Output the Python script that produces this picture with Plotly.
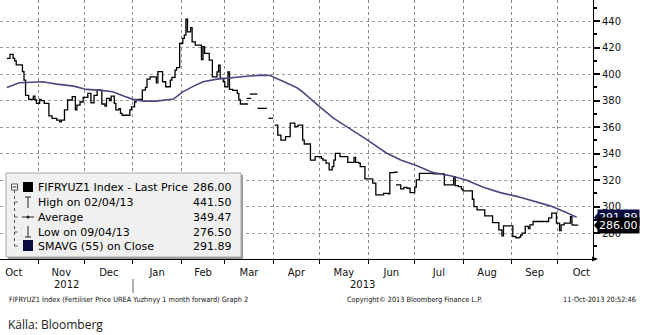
import plotly.graph_objects as go
import pandas as pd

# ---------------- data ----------------
price_dates = [
    "2012-10-12", "2012-10-14", "2012-10-16", "2012-10-17", "2012-10-18", "2012-10-22", "2012-10-23",
    "2012-10-24", "2012-10-26", "2012-10-29", "2012-10-30", "2012-10-31", "2012-11-02", "2012-11-03",
    "2012-11-05", "2012-11-08", "2012-11-10", "2012-11-13", "2012-11-15", "2012-11-16", "2012-11-18",
    "2012-11-20", "2012-11-23", "2012-11-25", "2012-11-26", "2012-11-28", "2012-11-30", "2012-12-03",
    "2012-12-05", "2012-12-07", "2012-12-09", "2012-12-12", "2012-12-14", "2012-12-15", "2012-12-17",
    "2012-12-18", "2012-12-20", "2012-12-21", "2012-12-23", "2012-12-24", "2012-12-25", "2012-12-30",
    "2012-12-31", "2013-01-02", "2013-01-03", "2013-01-07", "2013-01-09", "2013-01-10", "2013-01-12",
    "2013-01-16", "2013-01-17", "2013-01-20", "2013-01-22", "2013-01-25", "2013-01-26", "2013-01-28",
    "2013-01-29", "2013-01-31", "2013-02-02", "2013-02-03", "2013-02-04", "2013-02-05", "2013-02-07",
    "2013-02-08", "2013-02-10", "2013-02-14", "2013-02-15", "2013-02-16", "2013-02-19", "2013-02-21",
    "2013-02-24", "2013-02-25", "2013-02-26", "2013-02-28", "2013-03-01", "2013-03-03", "2013-03-04",
    "2013-03-06", "2013-03-09", "2013-03-10", "2013-03-11", "2013-03-16", "2013-03-16T06:00",
    "2013-03-15", "2013-03-18", "2013-03-18T06:00",
    "2013-03-17", "2013-03-22", "2013-03-22T06:00",
    "2013-03-22", "2013-03-28", "2013-03-28T06:00",
    "2013-03-29", "2013-04-01", "2013-04-01T06:00",
    "2013-04-02", "2013-04-04", "2013-04-06", "2013-04-09", "2013-04-12", "2013-04-15", "2013-04-17",
    "2013-04-20", "2013-04-21", "2013-04-25", "2013-04-28", "2013-05-02", "2013-05-03", "2013-05-05",
    "2013-05-07", "2013-05-09", "2013-05-10", "2013-05-11", "2013-05-14", "2013-05-19", "2013-05-23",
    "2013-05-24", "2013-05-26", "2013-05-27", "2013-05-30", "2013-06-04", "2013-06-06", "2013-06-11",
    "2013-06-14", "2013-06-15", "2013-06-18", "2013-06-20", "2013-06-20T06:00",
    "2013-06-19", "2013-06-22", "2013-06-24", "2013-06-26", "2013-06-28", "2013-07-01", "2013-07-02",
    "2013-07-04", "2013-07-13", "2013-07-20", "2013-07-26", "2013-07-27", "2013-07-29", "2013-07-31",
    "2013-08-01", "2013-08-07", "2013-08-08", "2013-08-10", "2013-08-15", "2013-08-20", "2013-08-24",
    "2013-08-26", "2013-08-27", "2013-09-02", "2013-09-04", "2013-09-06", "2013-09-07", "2013-09-08",
    "2013-09-10", "2013-09-12", "2013-09-13", "2013-09-15", "2013-09-25", "2013-09-27", "2013-09-30",
    "2013-10-02", "2013-10-03", "2013-10-05", "2013-10-09", "2013-10-10", "2013-10-11", "2013-10-14",
]
price_values = [
    412, 415, 412, 410, 407, 402, 395.5,
    384, 381, 383.5, 380.5, 378, 381, 380,
    378, 368.5, 366.7, 365.4, 364, 365.4, 373,
    380.5, 383, 373, 376.7, 379, 382.5, 385.5,
    378.4, 384, 388, 377.5, 376, 381.7, 380,
    383.5, 378, 373, 374, 370.4, 369, 373,
    375.4, 379, 381, 388, 390, 396.3, 398,
    393.5, 402, 394.3, 390.5, 395.5, 397.6, 403,
    405, 423.2, 427, 429.5, 441.5, 432, 435.2,
    424.4, 422, 411, 420.7, 415.7, 410.6, 398,
    401.8, 406.8, 396.8, 394.3, 390.5, 401.8, 388.5,
    387.8, 385.5, 380.5, 377.5, 377.5, None,
    381.7, 381.7, None,
    385, 385, None,
    374.2, 374.2, None,
    366.7, 366.7, None,
    361.6, 354, 350.3, 352.8, 363, 360.4, 361.6,
    350.3, 347.3, 335.2, 337.7, 336.5, 335.2, 332.8,
    327.8, 330.3, 335.2, 340.3, 337.7, 333.5, 337.2,
    333.5, 332.8, 330.3, 321, 317.7, 308.9, 310.1,
    309.6, 325.7, 326, 326, None,
    316.4, 313.4, 314.6, 313.9, 310.6, 314.7, 320.2,
    325.2, 324.7, 316.4, 322.7, 315.9, 315.2, 313.2,
    311.9, 305.6, 300.1, 297.6, 293, 288, 282.5,
    278, 285.5, 277.5, 276.5, 277, 278.6, 280,
    285.2, 283.5, 286.3, 288.8, 291.6, 295.1, 287.6,
    282, 286.3, 287.6, 292.5, 286.3, 286, 286,
]

sma_dates = [
    "2012-10-12", "2012-10-20", "2012-11-04", "2012-11-13", "2012-11-24", "2012-12-02", "2012-12-10",
    "2012-12-19", "2012-12-26", "2013-01-01", "2013-01-08", "2013-01-16", "2013-01-27", "2013-02-02",
    "2013-02-09", "2013-02-15", "2013-02-24", "2013-03-04", "2013-03-17", "2013-03-25", "2013-03-30",
    "2013-04-08", "2013-04-16", "2013-04-19", "2013-04-24", "2013-04-26", "2013-05-01", "2013-05-10",
    "2013-05-20", "2013-05-31", "2013-06-13", "2013-06-22", "2013-07-02", "2013-07-13", "2013-07-24",
    "2013-08-03", "2013-08-14", "2013-08-25", "2013-09-05", "2013-09-16", "2013-09-26", "2013-10-06",
    "2013-10-13",
]
sma_values = [
    390, 393.5, 394.3, 392.5, 391, 388.5, 388,
    386.7, 383.5, 381, 379.7, 379.7, 381.2, 386.7,
    391, 394.3, 396.3, 397.3, 398.6, 399.3, 399,
    394.3, 390, 387.5, 383, 380.5, 375.4, 366.7,
    359.1, 350.8, 340.3, 335.2, 331, 325.7, 323.4,
    320.2, 314.7, 310.6, 307.6, 303.8, 300.6, 295.8,
    292,
]

legend_labels = ["FIFRYUZ1 Index - Last Price", "High on 02/04/13", "Average",
                 "Low on 09/04/13", "SMAVG (55) on Close"]
legend_values = [286.00, 441.50, 349.47, 276.50, 291.89]

x_range = ["2012-10-07 14:00", "2013-10-23 12:00"]
y_range = [260.5, 456]

footer_left = "FIFRYUZ1 Index (Fertiliser Price UREA Yuzhnyy 1 month forward) Graph 2"
footer_mid = "Copyright\u00a9 2013 Bloomberg Finance L.P."
footer_right = "11-Oct-2013 20:52:46"
source_text = "K\u00e4lla: Bloomberg"

# ---------------- layout helpers (decoration positions) ----------------
W, H = 645, 335
ML, MR, MT, MB = 0, 52, 0, 76
PW, PH = W - ML - MR, H - MT - MB


def px(x):
    return (x - ML) / PW


def py(y):
    return 1 - (y - MT) / PH


AX_FONT = dict(family="DejaVu Sans", size=10, color="#111")
LEG_FONT = dict(family="DejaVu Sans", size=11, color="#000")
NAVY = "#4a4a82"

fig = go.Figure()
fig.add_trace(go.Scatter(
    x=pd.to_datetime(price_dates, format="ISO8601"), y=price_values, mode="lines",
    line=dict(color="#000", width=1.3, shape="hv"), connectgaps=False,
    hoverinfo="skip", showlegend=False))
fig.add_trace(go.Scatter(
    x=pd.to_datetime(sma_dates, format="ISO8601"), y=sma_values, mode="lines",
    line=dict(color=NAVY, width=1.6), hoverinfo="skip", showlegend=False))

shapes = []
annotations = []

# legend box with shadow
shapes.append(dict(type="rect", xref="paper", yref="paper", x0=px(8), x1=px(243), y0=py(259), y1=py(175),
                   fillcolor="#9a9a9a", line=dict(width=0), layer="above"))
shapes.append(dict(type="rect", xref="paper", yref="paper", x0=px(6), x1=px(241), y0=py(257), y1=py(173),
                   fillcolor="#f0f0f0", line=dict(color="#a8a8a8", width=1), layer="above"))

row_y = [187, 202, 217, 232, 246]
for lab, val, ry in zip(legend_labels, legend_values, row_y):
    annotations.append(dict(xref="paper", yref="paper", x=px(36), y=py(ry), text=lab, showarrow=False,
                            xanchor="left", yanchor="middle", font=LEG_FONT))
    annotations.append(dict(xref="paper", yref="paper", x=px(234), y=py(ry), text=f"{val:.2f}",
                            showarrow=False, xanchor="right", yanchor="middle", font=LEG_FONT))

# legend icons
dot = dict(color="#555", width=1, dash="dot")
shapes += [
    dict(type="rect", xref="paper", yref="paper", x0=px(11.5), x1=px(17.5), y0=py(190), y1=py(184),
         line=dict(color="#555", width=1), fillcolor="#fff", layer="above"),
    dict(type="line", xref="paper", yref="paper", x0=px(12.5), x1=px(16.5), y0=py(187), y1=py(187),
         line=dict(color="#222", width=1), layer="above"),
    dict(type="line", xref="paper", yref="paper", x0=px(14.5), x1=px(14.5), y0=py(190), y1=py(246),
         line=dot, layer="above"),
    dict(type="rect", xref="paper", yref="paper", x0=px(23), x1=px(33), y0=py(192), y1=py(182),
         fillcolor="#000", line=dict(width=0), layer="above"),
    dict(type="rect", xref="paper", yref="paper", x0=px(23), x1=px(33), y0=py(251), y1=py(240),
         fillcolor="#0c0c40", line=dict(width=0), layer="above"),
    dict(type="line", xref="paper", yref="paper", x0=px(25), x1=px(31), y0=py(197), y1=py(197),
         line=dict(color="#222", width=1), layer="above"),
    dict(type="line", xref="paper", yref="paper", x0=px(28), x1=px(28), y0=py(197), y1=py(208),
         line=dict(color="#222", width=1), layer="above"),
    dict(type="line", xref="paper", yref="paper", x0=px(22), x1=px(34), y0=py(217), y1=py(217),
         line=dict(color="#222", width=1), layer="above"),
    dict(type="circle", xref="paper", yref="paper", x0=px(26.5), x1=px(29.5), y0=py(218.5), y1=py(215.5),
         fillcolor="#222", line=dict(width=0), layer="above"),
    dict(type="line", xref="paper", yref="paper", x0=px(28), x1=px(28), y0=py(226), y1=py(237),
         line=dict(color="#222", width=1), layer="above"),
    dict(type="line", xref="paper", yref="paper", x0=px(25), x1=px(31), y0=py(237), y1=py(237),
         line=dict(color="#222", width=1), layer="above"),
]
for ry in row_y[1:]:
    shapes.append(dict(type="line", xref="paper", yref="paper", x0=px(14.5), x1=px(20), y0=py(ry), y1=py(ry),
                       line=dot, layer="above"))

# x-axis arrow tip
shapes.append(dict(type="path", xref="paper", yref="paper",
                   path=f"M {px(592)} {py(256.5)} L {px(598)} {py(259)} L {px(592)} {py(261.5)} Z",
                   fillcolor="#000", line=dict(width=0)))

# year separator and year labels centred on visible part of each year
r0, r1 = pd.Timestamp(x_range[0]), pd.Timestamp(x_range[1])
years = sorted(set(pd.to_datetime(price_dates, format="ISO8601").year))
for i, yr in enumerate(years):
    start = max(r0, pd.Timestamp(f"{yr}-01-01"))
    end = min(r1, pd.Timestamp(f"{yr + 1}-01-01"))
    mid = start + (end - start) / 2
    annotations.append(dict(xref="x", yref="paper", x=mid, y=py(284.5), text=str(yr), showarrow=False,
                            xanchor="center", yanchor="middle", font=AX_FONT))
    if i > 0:
        shapes.append(dict(type="line", xref="x", yref="paper", x0=pd.Timestamp(f"{yr}-01-01"),
                           x1=pd.Timestamp(f"{yr}-01-01"), y0=py(279), y1=py(293),
                           line=dict(color="#666", width=1)))


def tri(v, c):
    return dict(type="path", xref="paper", yref="y",
                path=f"M {px(594)} {v} L {px(599)} {v + 4.5} L {px(599)} {v - 4.5} Z",
                fillcolor=c, line=dict(width=0), layer="above")


annotations.append(dict(xref="paper", yref="y", x=px(597), y=legend_values[4], text=f"{legend_values[4]:.2f}",
                        showarrow=False, xanchor="left", yanchor="middle", bgcolor="#0c0c40", borderpad=1,
                        font=dict(family="DejaVu Sans", size=11, color="#fff")))
annotations.append(dict(xref="paper", yref="y", x=px(597), y=legend_values[0], text=f"{legend_values[0]:.2f}",
                        showarrow=False, xanchor="left", yanchor="middle", bgcolor="#000", borderpad=1,
                        font=dict(family="DejaVu Sans", size=11, color="#fff")))
shapes.append(tri(legend_values[4], "#0c0c40"))
shapes.append(tri(legend_values[0], "#000"))

small = dict(family="Liberation Sans Narrow, DejaVu Sans Condensed, Liberation Sans", size=7.3, color="#111")
annotations += [
    dict(xref="paper", yref="paper", x=px(7), y=py(299), text=footer_left, showarrow=False,
         xanchor="left", yanchor="middle", font=small),
    dict(xref="paper", yref="paper", x=px(345), y=py(299), text=footer_mid, showarrow=False,
         xanchor="left", yanchor="middle", font=small),
    dict(xref="paper", yref="paper", x=px(638), y=py(299), text=footer_right, showarrow=False,
         xanchor="right", yanchor="middle", font=small),
    dict(xref="paper", yref="paper", x=px(6), y=py(324), text=source_text, showarrow=False,
         xanchor="left", yanchor="middle", font=dict(family="Open Sans", size=12, color="#222")),
]

fig.update_layout(
    width=W, height=H, margin=dict(l=ML, r=MR, t=MT, b=MB),
    paper_bgcolor="#fff", plot_bgcolor="#fff",
    shapes=shapes, annotations=annotations, showlegend=False,
    xaxis=dict(type="date", range=x_range, dtick="M1", tickformat="%b", ticklabelmode="period",
               ticks="outside", ticklen=4, tickcolor="#000", showline=True, linecolor="#000", linewidth=1,
               showgrid=True, gridcolor="#8a8a8a", griddash="3px,3px", gridwidth=1, zeroline=False,
               tickfont=AX_FONT, fixedrange=True),
    yaxis=dict(range=y_range, side="right", dtick=20, ticks="outside", ticklen=6, tickwidth=2,
               tickcolor="#000", showline=True, linecolor="#000", linewidth=1,
               showgrid=True, gridcolor="#9a9a9a", griddash="3px,3px", gridwidth=1, zeroline=False,
               tickfont=AX_FONT, fixedrange=True,
               minor=dict(dtick=10, ticks="outside", ticklen=3, tickcolor="#000", showgrid=False)),
)

fig.write_html("out.html")
